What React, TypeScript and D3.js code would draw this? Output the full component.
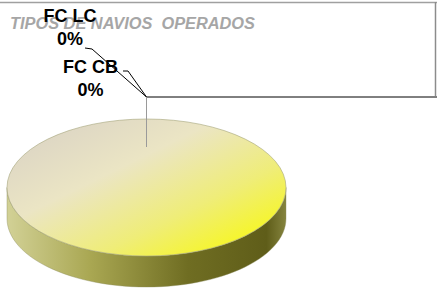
import React from "react";
import * as d3 from "d3";

// chart data
const categories = ["FC LC", "FC CB", "DEMAIS"];
const values = [0, 0, 100];
const title = "TIPOS DE NAVIOS  OPERADOS";

// label layout (text anchor points, leader elbow); the last label sits outside the frame
const labelPos = [
  { x: 70, y: 22, elbow: [85, 48, 92, 49], visible: true },
  { x: 90.5, y: 73, elbow: [123, 71, 128, 71], visible: true },
  { x: 470, y: 97, elbow: [437, 97, 437, 97], visible: false },
];

const W = 437;
const H = 289;
const cx = 146.5;
const cy = 187.5;
const rx = 139.5;
const ry = 68.5;
const depth = 31;

const pt = (a: number, sx: number, sy: number) => [cx + sx * Math.sin(a), cy - sy * Math.cos(a)];

export default function App() {
  const total = d3.sum(values);
  const arcs = d3.pie<number>().sort(null).value((d) => d)(values);
  const fmt = d3.format(".0%");

  // top face slices, drawn in unit space then squashed
  const arcGen = d3.arc<d3.PieArcDatum<number>>().innerRadius(0).outerRadius(1);

  // side wall: only the front half (pi/2 .. 3pi/2)
  const sidePath = (a0: number, a1: number) => {
    const s = Math.max(a0, Math.PI / 2);
    const e = Math.min(a1, (3 * Math.PI) / 2);
    if (e <= s) return null;
    const steps = d3.range(0, 61).map((i) => s + ((e - s) * i) / 60);
    const top = steps.map((a) => pt(a, rx, ry));
    const bot = steps.slice().reverse().map((a) => {
      const p = pt(a, rx, ry);
      return [p[0], p[1] + depth];
    });
    return d3.line()([...top, ...bot] as [number, number][]) + "Z";
  };

  return (
    <svg width={W} height={H} style={{ position: "fixed", left: 0, top: 0, display: "block" }}
      fontFamily="'Liberation Sans', Arial, sans-serif">
      <defs>
        <linearGradient id="topFace" x1="0.1" y1="0.1" x2="0.9" y2="0.9">
          <stop offset="0" stopColor="#dcd5c4" />
          <stop offset="0.35" stopColor="#ebe5c4" />
          <stop offset="0.7" stopColor="#efed78" />
          <stop offset="1" stopColor="#f7f71c" />
        </linearGradient>
        <linearGradient id="sideFace" x1="0" y1="0" x2="1" y2="0">
          <stop offset="0" stopColor="#d2d196" />
          <stop offset="0.3" stopColor="#a9a752" />
          <stop offset="0.65" stopColor="#6f6d22" />
          <stop offset="0.93" stopColor="#5f5d19" />
          <stop offset="1" stopColor="#85843e" />
        </linearGradient>
      </defs>
      <rect width={W} height={H} fill="#fff" />
      {/* frame */}
      <line x1={0} y1={2.5} x2={W} y2={2.5} stroke="#a0a0a0" strokeWidth={1.5} />
      <line x1={435.5} y1={2} x2={435.5} y2={96} stroke="#8c8c8c" strokeWidth={1.5} />

      <text x={10} y={29} fontSize={16} fontWeight="bold" fontStyle="italic" fill="#a6a6a6"
        style={{ whiteSpace: "pre" }} textLength={245} lengthAdjust="spacingAndGlyphs">{title}</text>

      {/* sides */}
      {arcs.map((a, i) => {
        const d = sidePath(a.startAngle, a.endAngle);
        return d ? <path key={"s" + i} d={d} fill="url(#sideFace)" stroke="#8a8a5a" strokeWidth={0.4} /> : null;
      })}
      {/* tops */}
      <g transform={`translate(${cx},${cy}) scale(${rx},${ry})`}>
        {arcs.map((a, i) =>
          a.endAngle > a.startAngle ? (
            <path key={"t" + i} d={arcGen(a) ?? ""} fill="url(#topFace)" stroke="#a4a47a"
              strokeWidth={0.6} vectorEffect="non-scaling-stroke" />
          ) : null
        )}
      </g>

      {/* leader lines and labels */}
      {arcs.map((a, i) => {
        const mid = (a.startAngle + a.endAngle) / 2;
        const anchor = values[i] === 0 ? pt(mid, rx, ry + 22) : pt(0, rx, ry + 22);
        const [ex1, ey1, ex2, ey2] = labelPos[i].elbow;
        return (
          <g key={"l" + i}>
            <polyline points={`${ex1},${ey1} ${ex2},${ey2} ${anchor[0]},${anchor[1]}`} fill="none"
              stroke="#000" strokeWidth={1} />
            {labelPos[i].visible && (
              <>
                <text x={labelPos[i].x} y={labelPos[i].y} textAnchor="middle" fontSize={18} fontWeight="bold" fill="#000">
                  {categories[i]}
                </text>
                <text x={labelPos[i].x} y={labelPos[i].y + 23} textAnchor="middle" fontSize={18} fontWeight="bold" fill="#000">
                  {fmt(values[i] / total)}
                </text>
              </>
            )}
          </g>
        );
      })}
      <line x1={cx} y1={97} x2={cx} y2={147} stroke="#9a9a9a" strokeWidth={1} />
    </svg>
  );
}
